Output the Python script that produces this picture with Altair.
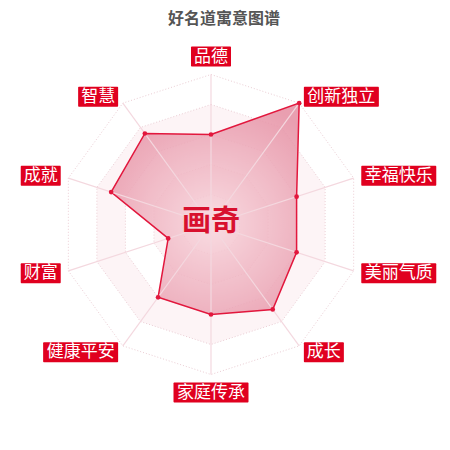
import altair as alt
import pandas as pd

# ---- data ----
categories = ["品德", "创新独立", "幸福快乐", "美丽气质", "成长",
              "家庭传承", "健康平安", "财富", "成就", "智慧"]
values = [60, 100, 60, 60, 70, 60, 60, 30, 70, 75]
ring_levels = [100, 80, 60, 40, 20]
ring_fills = ["#ffffff", "#fdf4f6", "#ffffff", "#fdf4f6", "#ffffff"]
title_text = "好名道寓意图谱"
name_text = "画奇"

N = len(categories)
PX = 1.5           # pixels per value unit
W, H = 434, 434
CX, CY = 203, 216.5  # centre of the radar inside the plot area (px)
FONT = "Noto Sans CJK SC"

xs = alt.Scale(domain=[-CX / PX, (W - CX) / PX], nice=False, zero=False)
ys = alt.Scale(domain=[-(H - CY) / PX, CY / PX], nice=False, zero=False)


def X(f):
    return alt.X(f"{f}:Q", scale=xs, axis=None)


def Y(f):
    return alt.Y(f"{f}:Q", scale=ys, axis=None)


ANG = f"datum.idx * 2 * PI / {N}"

poly_df = pd.DataFrame({"idx": list(range(N)) + [N],
                        "cat": categories + [categories[0]],
                        "value": values + [values[0]]})
point_df = pd.DataFrame({"idx": list(range(N)), "cat": categories, "value": values})
ring_df = pd.DataFrame([{"level": lv, "idx": i} for lv in ring_levels for i in range(N + 1)])
spoke_df = pd.DataFrame({"idx": list(range(N)), "level": [max(ring_levels)] * N})
label_df = pd.DataFrame({"idx": list(range(N)), "cat": categories})
centre_df = pd.DataFrame({"name": [name_text]})
title_df = pd.DataFrame({"t": [title_text]})

layers = []

# background bands
for lv, fc in zip(ring_levels, ring_fills):
    layers.append(
        alt.Chart(ring_df).transform_filter(f"datum.level == {lv}")
        .transform_calculate(x=f"datum.level * sin({ANG})", y=f"datum.level * cos({ANG})")
        .mark_line(fill=fc, stroke="#ebcdd4", strokeWidth=1, strokeDash=[1, 2])
        .encode(x=X("x"), y=Y("y"), order=alt.Order("idx:Q"))
    )

# data polygon
grad = alt.Gradient(
    gradient="radial",
    stops=[alt.GradientStop(offset=0, color="#f8d6dd"),
           alt.GradientStop(offset=1, color="#e58ea2")],
    x1=0.53, y1=0.57, x2=0.53, y2=0.57, r1=0, r2=0.62,
)
layers.append(
    alt.Chart(poly_df)
    .transform_calculate(x=f"datum.value * sin({ANG})", y=f"datum.value * cos({ANG})")
    .mark_line(fill=grad, fillOpacity=0.85, stroke="#e2173d", strokeWidth=1.5)
    .encode(x=X("x"), y=Y("y"), order=alt.Order("idx:Q"))
)

# spokes
layers.append(
    alt.Chart(spoke_df)
    .transform_calculate(x0="0", y0="0",
                         x=f"datum.level * sin({ANG})", y=f"datum.level * cos({ANG})")
    .mark_rule(color="#f4d8df", strokeWidth=1.2)
    .encode(x=X("x0"), y=Y("y0"), x2="x:Q", y2="y:Q")
)

# vertex points
layers.append(
    alt.Chart(point_df)
    .transform_calculate(x=f"datum.value * sin({ANG})", y=f"datum.value * cos({ANG})")
    .mark_circle(size=22, color="#e2173d", opacity=1)
    .encode(x=X("x"), y=Y("y"))
)

# label boxes
R_OUT = max(ring_levels)
lab = (
    alt.Chart(label_df)
    .transform_calculate(s=f"sin({ANG})", c=f"cos({ANG})")
    .transform_calculate(ax=f"({R_OUT} + 8/{PX}) * datum.s",
                         ay=f"({R_OUT} + 8/{PX}) * datum.c",
                         w=f"(length(datum.cat) * 17.5 + 5) / {PX}",
                         h=f"20 / {PX}")
    .transform_calculate(
        bx1="datum.s > 0.2 ? datum.ax : (datum.s < -0.2 ? datum.ax - datum.w : datum.ax - datum.w / 2)",
        by1="abs(datum.s) <= 0.2 ? (datum.c > 0 ? datum.ay : datum.ay - datum.h) : datum.ay - datum.h / 2",
    )
    .transform_calculate(bx2="datum.bx1 + datum.w", by2="datum.by1 + datum.h",
                         tx="datum.bx1 + datum.w / 2", ty="datum.by1 + datum.h / 2")
)
layers.append(lab.mark_rect(color="#e0001f", cornerRadius=1)
              .encode(x=X("bx1"), x2="bx2:Q", y=Y("by1"), y2="by2:Q"))
layers.append(lab.mark_text(color="white", font=FONT, fontSize=17, align="center",
                            baseline="middle", dy=0)
              .encode(x=X("tx"), y=Y("ty"), text="cat:N"))

# centre name
layers.append(
    alt.Chart(centre_df).transform_calculate(x="0", y="0")
    .mark_text(font=FONT, fontSize=29, fontWeight="bold", color="#d8102e",
               align="center", baseline="middle", dy=-3)
    .encode(x=X("x"), y=Y("y"), text="name:N")
)

# title
layers.append(
    alt.Chart(title_df)
    .mark_text(font=FONT, fontSize=16, fontWeight="bold", color="#555555",
               align="center", baseline="top")
    .encode(x=alt.value(216), y=alt.value(3), text="t:N")
)

chart = (
    alt.layer(*layers)
    .properties(width=W, height=H, padding=0,
                autosize=alt.AutoSizeParams(type="none"), background="white")
    .configure_view(stroke=None)
)

chart.save("out.html", embed_options={"renderer": "svg", "actions": False})
